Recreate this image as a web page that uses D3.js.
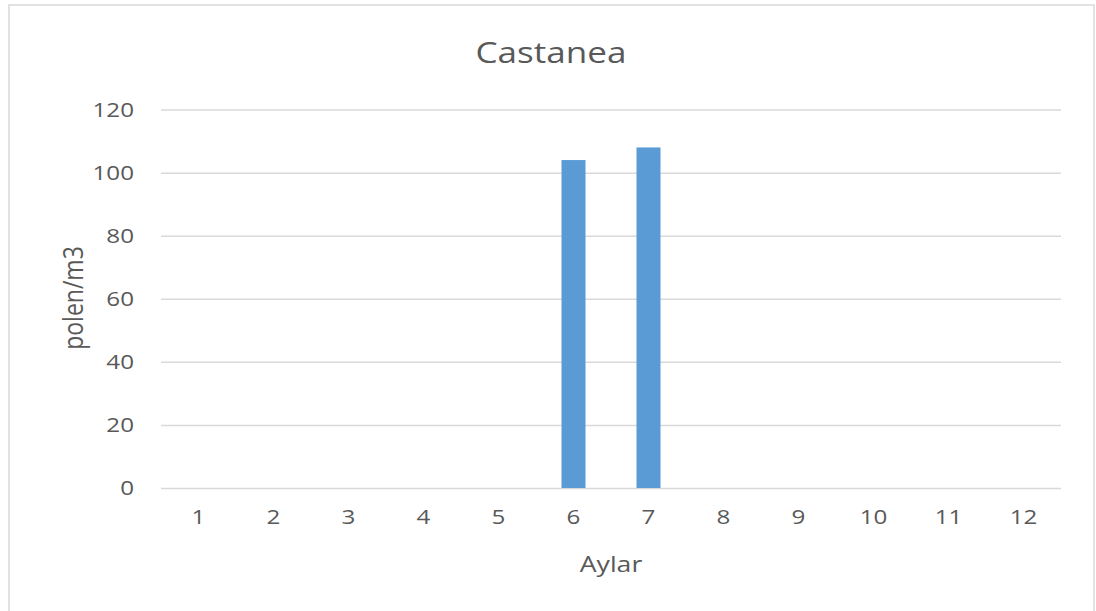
<!DOCTYPE html>
<html>
<head>
<meta charset="utf-8">
<script src="https://cdn.jsdelivr.net/npm/d3@7"></script>
<style>
  body { margin: 0; background: #fff; }
  text { font-family: "Open Sans", "Liberation Sans", sans-serif; fill: #595959; }
</style>
</head>
<body>
<svg id="chart" width="1096" height="611"></svg>
<script>
// aylar ve polen degerleri
var aylar = ["1", "2", "3", "4", "5", "6", "7", "8", "9", "10", "11", "12"];
var polen = [0, 0, 0, 0, 0, 104, 108, 0, 0, 0, 0, 0];
var yTicks = [0, 20, 40, 60, 80, 100, 120];

var sx = 1.21; // yazilar yatayda biraz genis

var svg = d3.select("#chart");

// cerceve
svg.append("rect")
  .attr("x", 9).attr("y", 5)
  .attr("width", 1085).attr("height", 610)
  .attr("fill", "none")
  .attr("stroke", "#d9d9d9")
  .attr("stroke-width", 1.5);

var pLeft = 161, pRight = 1061, pTop = 109.6, pBottom = 488;

var x = d3.scaleBand()
  .domain(aylar)
  .range([pLeft, pRight])
  .paddingInner(0.68)
  .paddingOuter(0.34);

var y = d3.scaleLinear()
  .domain([0, 120])
  .range([pBottom, pTop]);

// grid cizgileri
var yAxis = d3.axisLeft(y)
  .tickValues(yTicks)
  .tickSize(-(pRight - pLeft))
  .tickPadding(26);

var gy = svg.append("g")
  .attr("transform", "translate(" + pLeft + ",0)")
  .call(yAxis);
gy.select(".domain").remove();
gy.selectAll("line").attr("stroke", "#d9d9d9").attr("stroke-width", 1.5);
gy.selectAll("text")
  .attr("x", -27 / sx)
  .attr("transform", "scale(" + sx + ",1)")
  .style("font-size", "20px")
  .style("fill", "#595959")
  .style("font-family", "'Open Sans', sans-serif");

var xAxis = d3.axisBottom(x).tickSize(0).tickPadding(22);
var gx = svg.append("g")
  .attr("transform", "translate(0," + pBottom + ")")
  .call(xAxis);
gx.select(".domain").remove();
gx.selectAll("text")
  .attr("transform", "scale(" + sx + ",1)")
  .style("font-size", "20px")
  .style("fill", "#595959")
  .style("font-family", "'Open Sans', sans-serif");

// barlar
svg.append("g")
  .selectAll("rect")
  .data(polen)
  .enter()
  .append("rect")
  .attr("x", (d, i) => x(aylar[i]))
  .attr("width", x.bandwidth())
  .attr("y", d => y(d))
  .attr("height", d => pBottom - y(d))
  .attr("fill", "#5b9bd5");

// basliklar
svg.append("text")
  .attr("transform", "translate(551,52) scale(" + sx + ",1)")
  .attr("text-anchor", "middle")
  .attr("dominant-baseline", "central")
  .style("font-size", "29px")
  .text("Castanea");

svg.append("text")
  .attr("transform", "translate(" + (pLeft + pRight) / 2 + ",563) scale(" + sx + ",1)")
  .attr("text-anchor", "middle")
  .attr("dominant-baseline", "central")
  .style("font-size", "22px")
  .text("Aylar");

svg.append("text")
  .attr("transform", "translate(72,298) scale(" + sx + ",1) rotate(-90)")
  .attr("text-anchor", "middle")
  .attr("dominant-baseline", "central")
  .style("font-size", "23px")
  .text("polen/m3");
</script>
</body>
</html>
